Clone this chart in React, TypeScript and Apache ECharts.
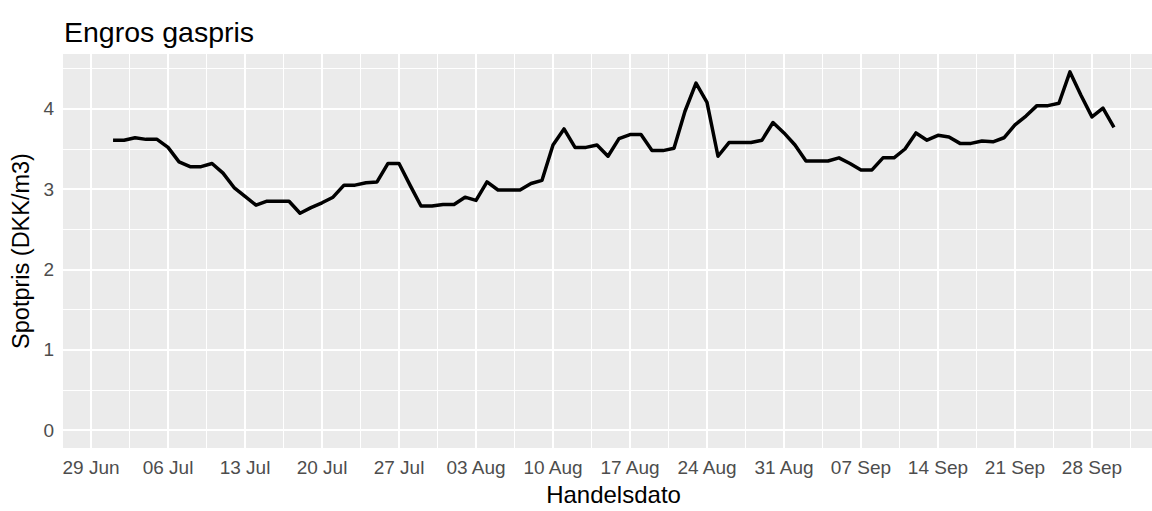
import React, { useEffect, useRef } from "react";
import * as echarts from "echarts";

// Daily wholesale gas price (DKK/m3), 1 Jul – 30 Sep 2023
const dates = [
  "2023-07-01","2023-07-02","2023-07-03","2023-07-04","2023-07-05","2023-07-06","2023-07-07","2023-07-08","2023-07-09","2023-07-10",
  "2023-07-11","2023-07-12","2023-07-13","2023-07-14","2023-07-15","2023-07-16","2023-07-17","2023-07-18","2023-07-19","2023-07-20",
  "2023-07-21","2023-07-22","2023-07-23","2023-07-24","2023-07-25","2023-07-26","2023-07-27","2023-07-28","2023-07-29","2023-07-30",
  "2023-07-31","2023-08-01","2023-08-02","2023-08-03","2023-08-04","2023-08-05","2023-08-06","2023-08-07","2023-08-08","2023-08-09",
  "2023-08-10","2023-08-11","2023-08-12","2023-08-13","2023-08-14","2023-08-15","2023-08-16","2023-08-17","2023-08-18","2023-08-19",
  "2023-08-20","2023-08-21","2023-08-22","2023-08-23","2023-08-24","2023-08-25","2023-08-26","2023-08-27","2023-08-28","2023-08-29",
  "2023-08-30","2023-08-31","2023-09-01","2023-09-02","2023-09-03","2023-09-04","2023-09-05","2023-09-06","2023-09-07","2023-09-08",
  "2023-09-09","2023-09-10","2023-09-11","2023-09-12","2023-09-13","2023-09-14","2023-09-15","2023-09-16","2023-09-17","2023-09-18",
  "2023-09-19","2023-09-20","2023-09-21","2023-09-22","2023-09-23","2023-09-24","2023-09-25","2023-09-26","2023-09-27","2023-09-28",
  "2023-09-29","2023-09-30",
];

const prices = [
  3.61, 3.61, 3.64, 3.62, 3.62, 3.52, 3.34, 3.28, 3.28, 3.32,
  3.20, 3.02, 2.91, 2.80, 2.85, 2.85, 2.85, 2.70, 2.77, 2.83,
  2.90, 3.05, 3.05, 3.08, 3.09, 3.32, 3.32, 3.05, 2.79, 2.79,
  2.81, 2.81, 2.90, 2.86, 3.09, 2.99, 2.99, 2.99, 3.07, 3.11,
  3.55, 3.75, 3.52, 3.52, 3.55, 3.41, 3.63, 3.68, 3.68, 3.48,
  3.48, 3.51, 3.97, 4.32, 4.08, 3.41, 3.58, 3.58, 3.58, 3.61,
  3.83, 3.70, 3.55, 3.35, 3.35, 3.35, 3.39, 3.32, 3.24, 3.24,
  3.39, 3.39, 3.50, 3.70, 3.61, 3.67, 3.65, 3.57, 3.57, 3.60,
  3.59, 3.64, 3.80, 3.91, 4.04, 4.04, 4.07, 4.46, 4.17, 3.90,
  4.01, 3.77,
];

const tickDates = [
  "2023-06-29","2023-07-06","2023-07-13","2023-07-20","2023-07-27","2023-08-03","2023-08-10",
  "2023-08-17","2023-08-24","2023-08-31","2023-09-07","2023-09-14","2023-09-21","2023-09-28",
];
const tickLabels = [
  "29 Jun","06 Jul","13 Jul","20 Jul","27 Jul","03 Aug","10 Aug",
  "17 Aug","24 Aug","31 Aug","07 Sep","14 Sep","21 Sep","28 Sep",
];
const yTicks = [0, 1, 2, 3, 4];
const yMinorTicks = [0.5, 1.5, 2.5, 3.5, 4.5];

const TITLE = "Engros gaspris";
const X_TITLE = "Handelsdato";
const Y_TITLE = "Spotpris (DKK/m3)";

const ORIGIN = Date.parse("2023-06-29T00:00:00Z");
const dayNum = (d: string) => (Date.parse(d + "T00:00:00Z") - ORIGIN) / 86400000;

const FONT = "'Liberation Sans', Arial, Helvetica, sans-serif";

export default function App() {
  const ref = useRef<HTMLDivElement>(null);

  useEffect(() => {
    if (!ref.current) return;
    const chart = echarts.init(ref.current, undefined, { renderer: "svg" });

    const seriesData = dates.map((d, i) => [dayNum(d), prices[i]]);
    const first = dayNum(dates[0]);
    const last = dayNum(dates[dates.length - 1]);
    const xPad = (last - first) * 0.05;
    const xMin = first - xPad;
    const xMax = last + xPad;
    const yDataMax = Math.max(...prices);
    const yPad = yDataMax * 0.05;
    const yMin = -yPad;
    const yMax = yDataMax + yPad;

    const majorX = tickDates.map(dayNum);
    const minorX: number[] = [];
    for (let i = 0; i < majorX.length; i++) {
      const m = majorX[i] + 3.5;
      if (m > xMin && m < xMax) minorX.push(m);
    }

    const labelMap: Record<string, string> = {};
    majorX.forEach((v, i) => (labelMap[String(v)] = tickLabels[i]));

    chart.setOption({
      animation: false,
      backgroundColor: "#ffffff",
      textStyle: { fontFamily: FONT },
      graphic: [
        {
          type: "text",
          x: 64,
          y: 32,
          style: {
            text: TITLE,
            fontFamily: FONT,
            fontSize: 28.5,
            fill: "#000000",
            verticalAlign: "middle",
            align: "left",
          },
        },
      ],
      grid: {
        left: 63,
        top: 54,
        width: 1101,
        height: 402,
        show: true,
        backgroundColor: "#EBEBEB",
        borderWidth: 0,
        containLabel: false,
      },
      xAxis: {
        type: "value",
        min: xMin,
        max: xMax,
        name: X_TITLE,
        nameLocation: "middle",
        nameGap: 34,
        nameTextStyle: { fontFamily: FONT, fontSize: 24, color: "#000000" },
        axisLine: { show: false },
        splitLine: { show: false },
        axisTick: {
          show: true,
          length: 5,
          customValues: majorX,
          lineStyle: { color: "#333333", width: 1.5 },
        },
        axisLabel: {
          customValues: majorX,
          margin: 10,
          fontFamily: FONT,
          fontSize: 19,
          color: "#4D4D4D",
          formatter: (v: number) => labelMap[String(v)] ?? "",
        },
      },
      yAxis: {
        type: "value",
        min: yMin,
        max: yMax,
        name: Y_TITLE,
        nameLocation: "middle",
        nameGap: 30,
        nameTextStyle: { fontFamily: FONT, fontSize: 23.5, color: "#000000" },
        axisLine: { show: false },
        splitLine: { show: false },
        axisTick: {
          show: true,
          length: 5,
          customValues: yTicks,
          lineStyle: { color: "#333333", width: 1.5 },
        },
        axisLabel: {
          customValues: yTicks,
          margin: 9,
          fontFamily: FONT,
          fontSize: 19,
          color: "#4D4D4D",
          formatter: (v: number) => String(Math.round(v)),
        },
      },
      series: [
        {
          type: "line",
          z: 1,
          silent: true,
          data: seriesData,
          showSymbol: false,
          lineStyle: { opacity: 0, width: 0 },
          markLine: {
            z: 1,
            silent: true,
            symbol: "none",
            animation: false,
            label: { show: false },
            data: [
              ...minorX.map((v) => ({ xAxis: v, lineStyle: { color: "#FFFFFF", width: 1, type: "solid" } })),
              ...yMinorTicks.map((v) => ({ yAxis: v, lineStyle: { color: "#FFFFFF", width: 1, type: "solid" } })),
              ...majorX.map((v) => ({ xAxis: v, lineStyle: { color: "#FFFFFF", width: 2, type: "solid" } })),
              ...yTicks.map((v) => ({ yAxis: v, lineStyle: { color: "#FFFFFF", width: 2, type: "solid" } })),
            ],
          },
        },
        {
          type: "line",
          z: 10,
          data: seriesData,
          showSymbol: false,
          symbol: "none",
          lineStyle: { color: "#000000", width: 3.5, join: "round" },
        },
      ],
    });

    return () => chart.dispose();
  }, []);

  return (
    <div
      style={{
        position: "absolute",
        left: 0,
        top: 0,
        width: 1152,
        height: 511,
        overflow: "hidden",
        background: "#ffffff",
      }}
    >
      <div ref={ref} style={{ width: 1200, height: 511 }} />
    </div>
  );
}
